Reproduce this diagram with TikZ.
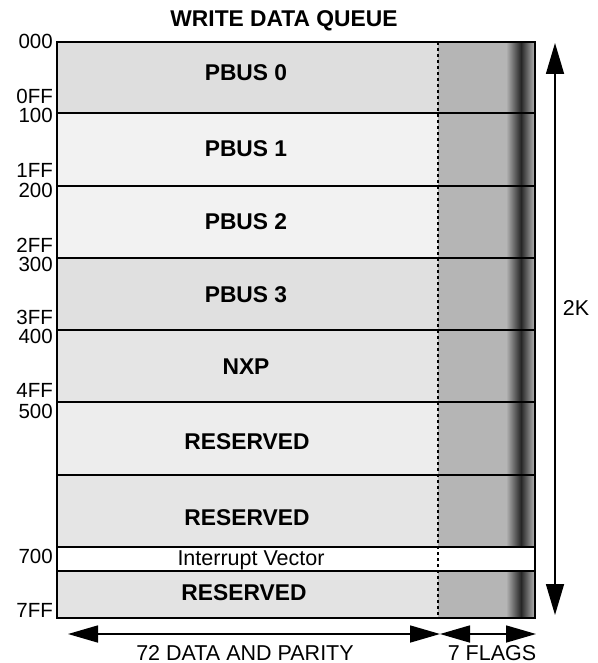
\documentclass[tikz,border=0pt]{standalone}
\usepackage{fontspec}
\setmainfont{Liberation Sans}
\usetikzlibrary{arrows.meta}
\tikzset{
  x=1pt, y=-1pt,
  rowlbl/.style={font=\fontsize{22.8}{22.8}\selectfont\bfseries, anchor=base, inner sep=0pt},
  addr/.style={font=\fontsize{20.5}{20.5}\selectfont, anchor=base east, inner sep=0pt},
  plain/.style={font=\fontsize{21.5}{21.5}\selectfont, anchor=base, inner sep=0pt},
  divider/.style={line width=1.8pt},
  bigarrow/.style={line width=1.6pt, {Triangle[length=31pt,width=18pt]}-{Triangle[length=31pt,width=18pt]}},
  botarrow/.style={line width=1.6pt, {Triangle[length=30pt,width=17pt]}-{Triangle[length=30pt,width=17pt]}},
}
\begin{document}
\begin{tikzpicture}
\useasboundingbox (0,0) rectangle (597,663);
% data region fills
\fill[gray!26] (57,42) rectangle (438,113);
\fill[gray!10] (57,113) rectangle (438,186);
\fill[gray!10] (57,186) rectangle (438,258);
\fill[gray!24] (57,258) rectangle (438,330);
\fill[gray!20] (57,330) rectangle (438,402);
\fill[gray!14] (57,402) rectangle (438,475);
\fill[gray!20] (57,475) rectangle (438,547);
\fill[gray!22] (57,571) rectangle (438,618);
% flags region fills
\fill[gray!58] (438,42) rectangle (506,547);
\shade[left color=gray!58, right color=black!85] (506,42) rectangle (521,547);
\shade[left color=black!85, right color=gray!58] (521,42) rectangle (535,547);
\fill[gray!58] (438,571) rectangle (506,618);
\shade[left color=gray!58, right color=black!85] (506,571) rectangle (521,618);
\shade[left color=black!85, right color=gray!58] (521,571) rectangle (535,618);
% interrupt row
\fill[white] (57,547) rectangle (535,571);
% dividers
\foreach \yy in {113,186,258,330,402,475,547,571}
  \draw[divider] (57,\yy) -- (535,\yy);
\draw[line width=1.8pt, dash pattern=on 3pt off 3pt] (438,42) -- (438,618);
\draw[line width=2pt] (57,42) rectangle (535,618);
% title
\node[rowlbl] (title) at (284,27) {WRITE DATA QUEUE};
% row labels
\node[rowlbl] (p0) at (246,81) {PBUS 0};
\node[rowlbl] (p1) at (246,157) {PBUS 1};
\node[rowlbl] (p2) at (246,229) {PBUS 2};
\node[rowlbl] (p3) at (246,302) {PBUS 3};
\node[rowlbl] (nxp) at (246,374) {NXP};
\node[rowlbl] (r1) at (247,449) {RESERVED};
\node[rowlbl] (r2) at (247,525) {RESERVED};
\node[plain] (iv) at (251,565) {Interrupt Vector};
\node[rowlbl] (r3) at (244,600) {RESERVED};
% addresses
\node[addr] (a000) at (53,49) {000};
\node[addr] (a0ff) at (53,104) {0FF};
\node[addr] (a100) at (53,123) {100};
\node[addr] (a1ff) at (53,178) {1FF};
\node[addr] (a200) at (53,197) {200};
\node[addr] (a2ff) at (53,252) {2FF};
\node[addr] (a300) at (53,271) {300};
\node[addr] (a3ff) at (53,324) {3FF};
\node[addr] (a400) at (53,343) {400};
\node[addr] (a4ff) at (53,397) {4FF};
\node[addr] (a500) at (53,418) {500};
\node[addr] (a700) at (53,563) {700};
\node[addr] (a7ff) at (53,617) {7FF};
% 2K arrow
\coordinate (ktop) at (555,43);
\coordinate (kbot) at (555,615);
\draw[bigarrow] (ktop) -- (kbot);
\node[plain] (twok) at (576,315) {2K};
% bottom arrows
\coordinate (bl) at (68,634);
\coordinate (bm) at (440,634);
\coordinate (br) at (536,634);
\draw[botarrow] (bl) -- (bm);
\draw[botarrow] (bm) -- (br);
\node[plain] (data) at (245,660) {72 DATA AND PARITY};
\node[plain] (flags) at (492,660) {7 FLAGS};
\end{tikzpicture}
\end{document}
